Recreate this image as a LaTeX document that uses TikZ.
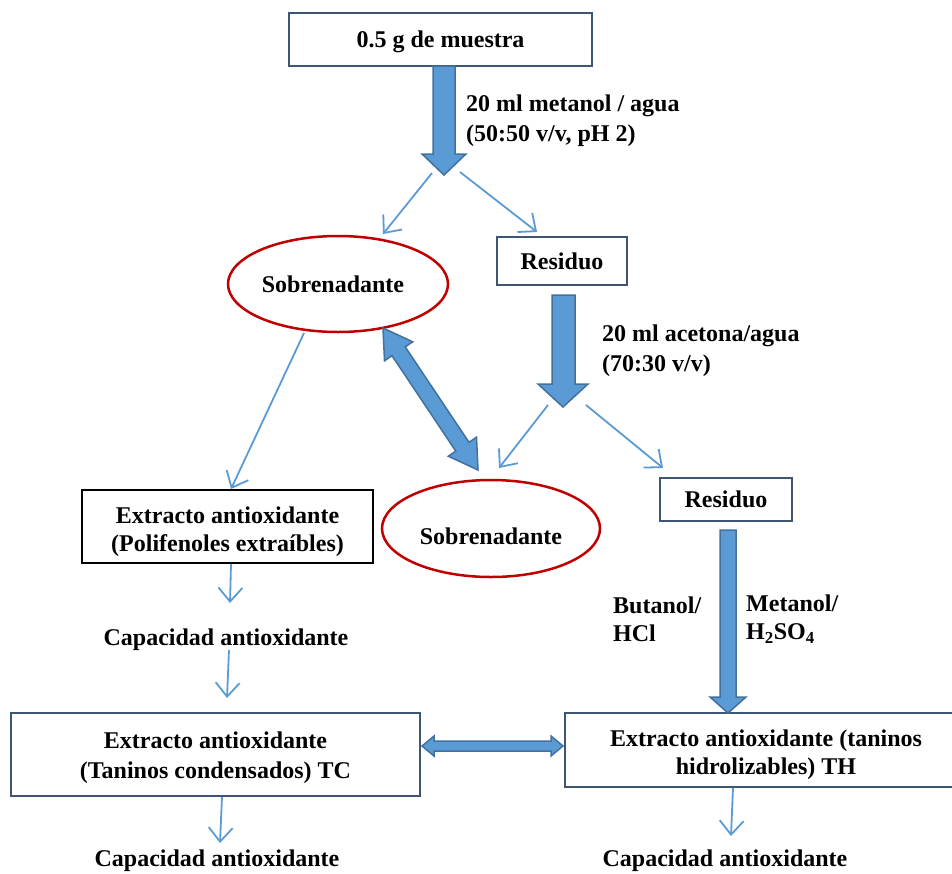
\documentclass[tikz,border=0pt]{standalone}
\usepackage{fontspec}
\setmainfont{Liberation Serif}
\usetikzlibrary{arrows.meta,shapes.geometric}
\definecolor{thinblue}{HTML}{5B9BD5}
\definecolor{blockfill}{HTML}{5B9BD5}
\definecolor{blockedge}{HTML}{41719C}
\definecolor{boxedge}{HTML}{3E5574}
\definecolor{ellred}{HTML}{C00000}
\begin{document}
\begin{tikzpicture}[x=1pt,y=-1pt,
  font=\fontsize{24}{30}\selectfont\bfseries,
  box/.style={draw=boxedge, line width=2pt, fill=white, inner sep=0pt, align=center},
  boxtext/.style={inner sep=0pt, align=center},
  ell/.style={ellipse, draw=ellred, line width=2.5pt, fill=white, inner sep=0pt},
  lbl/.style={inner sep=0pt, align=left, anchor=west},
  captext/.style={inner sep=0pt, anchor=base},
  thinarrow/.style={draw=thinblue, line width=1.8pt, -{Straight Barb[length=14pt,width=24pt]}},
  block/.style={fill=blockfill, draw=blockedge, line width=1.5pt, line join=miter}]
\useasboundingbox (0,0) rectangle (952,873);
\clip (0,0) rectangle (952,873);

% boxes
\node[box, text depth=0pt, minimum width=303pt, minimum height=53pt] (top) at (440.5,39.5) {0.5 g de muestra};
\node[box, minimum width=130pt, minimum height=48pt] (res1) at (562,261) {Residuo};
\node[box, minimum width=132pt, minimum height=43pt] (res2) at (726,499.5) {Residuo};
\node[box, draw=black, minimum width=291pt, minimum height=73pt] (poli) at (227.5,526.5) {};
\node[boxtext, font=\fontsize{24}{28}\selectfont\bfseries] (polit) at (227.5,532) {Extracto antioxidante\\(Polifenoles extraíbles)};
\node[box, minimum width=409pt, minimum height=83pt] (tc) at (215.5,754.5) {};
\node[boxtext] (tct) at (215.5,758) {Extracto antioxidante\\(Taninos condensados) TC};
\node[box, minimum width=402pt, minimum height=74pt] (th) at (766,750) {};
\node[boxtext, font=\fontsize{24}{28}\selectfont\bfseries] (tht) at (766,755) {Extracto antioxidante (taninos\\hidrolizables) TH};
\node[ell, minimum width=220pt, minimum height=96pt] (s1) at (338,284) {\hspace*{-10pt}Sobrenadante};
\node[ell, minimum width=218pt, minimum height=97pt] (s2) at (491,528.5) {\raisebox{-16pt}[0pt][0pt]{Sobrenadante}};

% labels
\node[lbl] (l1) at (466,121) {20 ml metanol / agua\\(50:50 v/v, pH 2)};
\node[lbl] (l2) at (602,351) {20 ml acetona/agua\\(70:30 v/v)};
\node[lbl, font=\fontsize{24}{28}\selectfont\bfseries] (l3) at (613,619) {Butanol/\\HCl};
\node[lbl, font=\fontsize{24}{28}\selectfont\bfseries] (l4) at (746,619) {Metanol/\\H\textsubscript{2}SO\textsubscript{4}};
\node[captext] (cap1) at (226,645) {Capacidad antioxidante};
\node[captext] (cap2) at (217,866) {Capacidad antioxidante};
\node[captext] (cap3) at (725,866) {Capacidad antioxidante};

% block arrows
\draw[block] (433,66) -- (455,66) -- (455,154) -- (466,154) -- (444,175) -- (422,154) -- (433,154) -- cycle;
\draw[block] (552,295) -- (575,295) -- (575,384) -- (588,384) -- (563,407) -- (538,384) -- (552,384) -- cycle;
\draw[block] (720,530) -- (736,530) -- (736,697) -- (746,697) -- (728,713) -- (710,697) -- (720,697) -- cycle;
% double arrow between supernatants
\draw[block] (383,328) -- (412.7,341.8) -- (405.2,346.9) -- (469.0,442.3) -- (476.5,437.2) -- (478,470)
  -- (448.3,456.2) -- (455.8,451.1) -- (392.0,355.7) -- (384.5,360.8) -- cycle;
% horizontal double arrow
\draw[block] (422,746) -- (434,736) -- (434,741) -- (551,741) -- (551,736) -- (563,746)
  -- (551,756) -- (551,751) -- (434,751) -- (434,756) -- cycle;

% thin arrows
\coordinate (a1s) at (432,173); \coordinate (a1e) at (383,234);
\coordinate (a2s) at (460,172); \coordinate (a2e) at (537,232);
\coordinate (a3s) at (548,405); \coordinate (a3e) at (499,468);
\coordinate (a4s) at (586,405); \coordinate (a4e) at (663,468);
\coordinate (a5s) at (304,333); \coordinate (a5e) at (231,489);
\coordinate (a6s) at (231,564); \coordinate (a6e) at (230,603);
\coordinate (a7s) at (229,650); \coordinate (a7e) at (227,698);
\coordinate (a8s) at (222,797); \coordinate (a8e) at (220,843);
\coordinate (a9s) at (733,788); \coordinate (a9e) at (731,836);
\draw[thinarrow] (a1s) -- (a1e);
\draw[thinarrow] (a2s) -- (a2e);
\draw[thinarrow] (a3s) -- (a3e);
\draw[thinarrow] (a4s) -- (a4e);
\draw[thinarrow] (a5s) -- (a5e);
\draw[thinarrow] (a6s) -- (a6e);
\draw[thinarrow] (a7s) -- (a7e);
\draw[thinarrow] (a8s) -- (a8e);
\draw[thinarrow] (a9s) -- (a9e);
\end{tikzpicture}
\end{document}
